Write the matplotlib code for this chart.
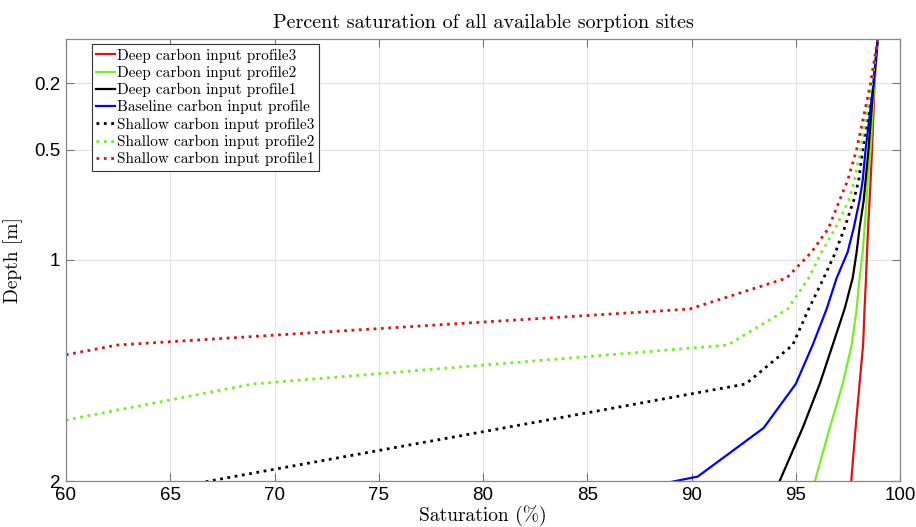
import numpy as np
import matplotlib
matplotlib.use("Agg")
import matplotlib.pyplot as plt

# depth levels [m]
depth = [0.0, 0.2, 0.5, 0.64, 0.73, 0.855, 0.964, 1.082, 1.222, 1.385, 1.561, 1.76, 1.98, 2.23]

nan = np.nan
deep3 = [98.93, 98.78, 98.66, 98.59, 98.54, 98.47, 98.42, 98.37, 98.30, 98.23, 98.06, 97.87, 97.68, 97.44]
deep2 = [98.93, 98.76, 98.59, 98.45, 98.40, 98.30, 98.21, 98.06, 97.92, 97.68, 97.25, 96.63, 95.98, 95.24]
deep1 = [98.93, 98.73, 98.49, 98.35, 98.26, 98.06, 97.92, 97.73, 97.34, 96.77, 96.15, 95.33, 94.32, 93.17]
baseline = [98.93, 98.73, 98.35, 98.21, 98.06, 97.78, 97.49, 96.96, 96.48, 95.81, 95.00, 93.46, 90.30, 77.11]
shallow3 = [98.93, 98.69, 98.21, 98.02, 97.78, 97.34, 96.91, 96.34, 95.62, 94.85, 92.60, 81.00, 68.05, 53.53]
shallow2 = [98.93, 98.64, 98.11, 97.82, 97.54, 96.91, 96.24, 95.62, 94.61, 91.74, 68.96, 58.03, nan, nan]
shallow1 = [98.93, 98.59, 97.92, 97.49, 97.10, 96.58, 95.76, 94.56, 89.91, 62.44, 52.67, nan, nan, nan]

labels = ['Deep carbon input profile3', 'Deep carbon input profile2',
          'Deep carbon input profile1', 'Baseline carbon input profile',
          'Shallow carbon input profile3', 'Shallow carbon input profile2',
          'Shallow carbon input profile1']

red = '#d81414'
green = '#77ee22'

serif = ['cmr10', 'DejaVu Serif']
sans = ['Liberation Sans', 'DejaVu Sans']
plt.rcParams['axes.formatter.use_mathtext'] = False

fig = plt.figure(figsize=(9.16, 5.27), dpi=100)
ax = fig.add_axes([66/916, 1-481/527, 834/916, 442/527])

ax.plot(deep3, depth, '-', color=red, lw=1.6, label=labels[0])
ax.plot(deep2, depth, '-', color=green, lw=1.6, label=labels[1])
ax.plot(deep1, depth, '-', color='k', lw=1.6, label=labels[2])
ax.plot(baseline, depth, '-', color='#0000ff', lw=1.6, label=labels[3])
ax.plot(shallow3, depth, ':', color='k', lw=2.0, label=labels[4])
ax.plot(shallow2, depth, ':', color=green, lw=2.0, label=labels[5])
ax.plot(shallow1, depth, ':', color=red, lw=2.0, label=labels[6])

ax.set_xlim(60, 100)
ax.set_ylim(2, 0)
ax.set_xticks(range(60, 101, 5))
ax.set_yticks([0.2, 0.5, 1, 2])
ax.set_yticklabels(['0.2', '0.5', '1', '2'])
ax.grid(True, color='#e2e2e2', lw=0.8)
ax.set_axisbelow(True)
ax.tick_params(direction='in', top=True, right=True, length=6, width=0.8,
               color='#777777', labelsize=13.5, pad=4)
for lab in ax.get_xticklabels() + ax.get_yticklabels():
    lab.set_family(sans)
for s in ax.spines.values():
    s.set_color('#888888')
    s.set_linewidth(0.9)

ax.set_title('Percent saturation of all available sorption sites', family=serif,
             fontsize=14.5, pad=8)
ax.set_xlabel('Saturation (%)', family=serif, fontsize=14, labelpad=1)
ax.set_ylabel('Depth [m]', family=serif, fontsize=14, labelpad=8)

leg = ax.legend(loc='upper left', bbox_to_anchor=(0.031, 0.989), borderaxespad=0,
                prop={'family': serif, 'size': 11}, handlelength=1.2,
                handletextpad=0.12, labelspacing=0.2, borderpad=0.3,
                fancybox=False, framealpha=1, edgecolor='#333333')
leg.get_frame().set_linewidth(0.8)

fig.savefig('out.png', dpi=100)
